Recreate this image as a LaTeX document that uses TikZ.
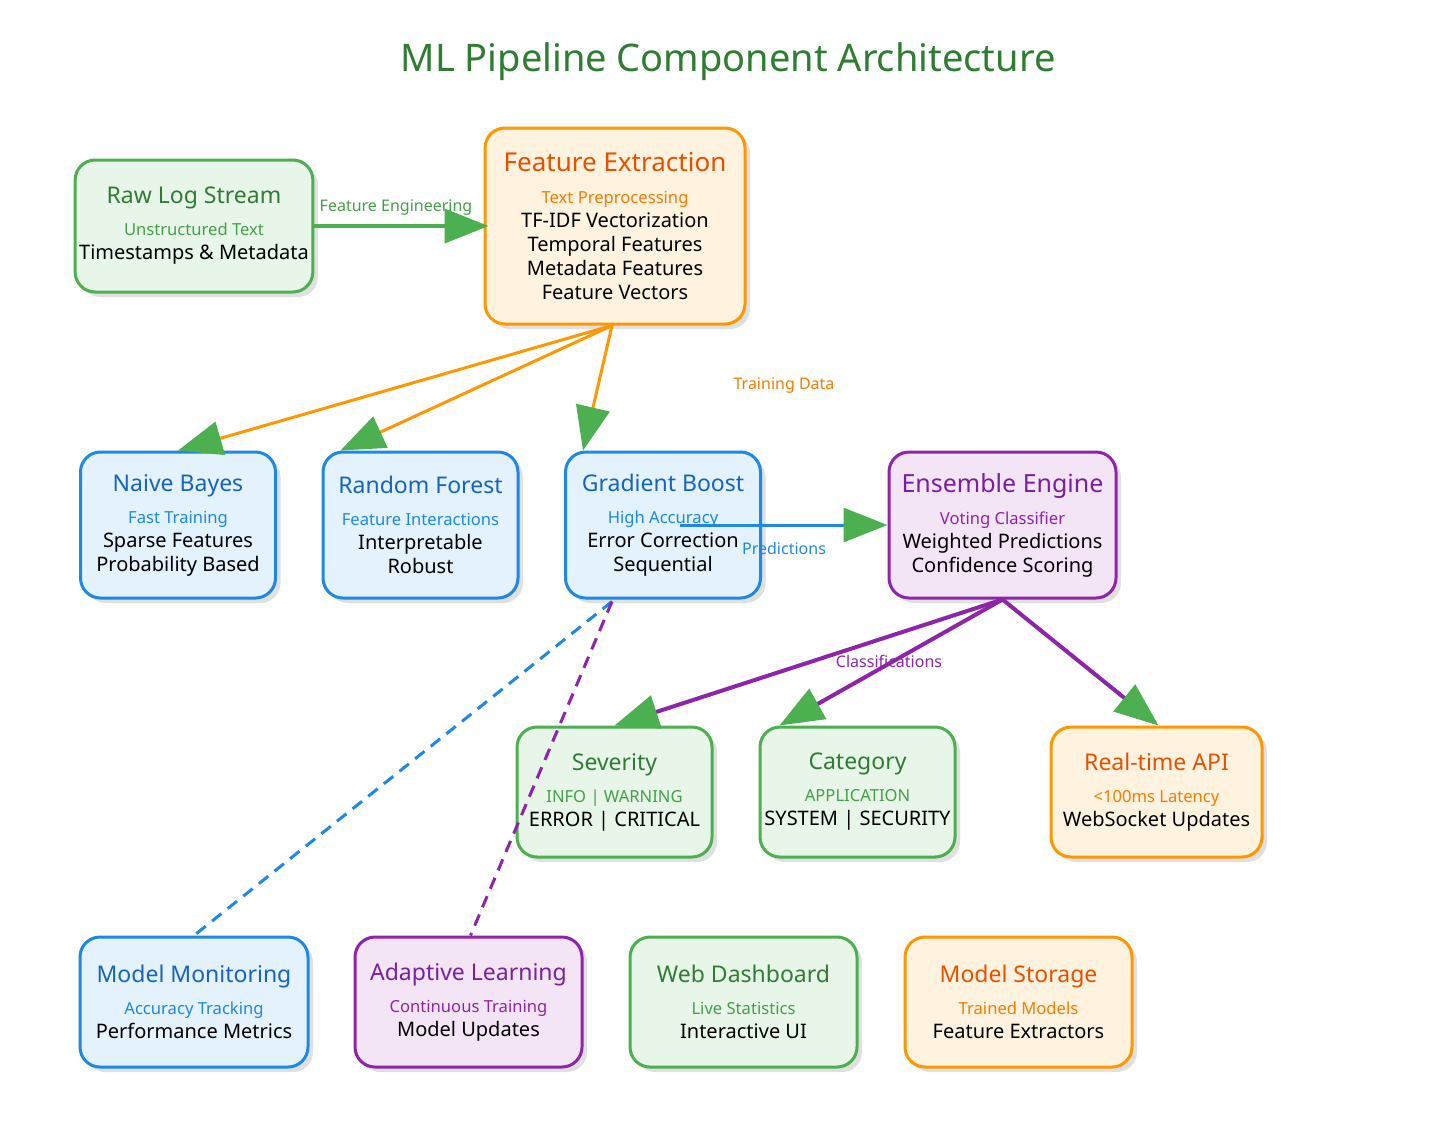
\documentclass[tikz,border=0pt]{standalone}
\usepackage{fontspec}
\setmainfont{Noto Sans}
\usetikzlibrary{arrows.meta,calc}
\definecolor{gF}{HTML}{E8F5E9}\definecolor{gD}{HTML}{4CAF50}\definecolor{gT}{HTML}{2E7D32}\definecolor{gX}{HTML}{43A047}
\definecolor{oF}{HTML}{FFF3E0}\definecolor{oD}{HTML}{FF9800}\definecolor{oT}{HTML}{E65100}\definecolor{oX}{HTML}{F57C00}
\definecolor{bF}{HTML}{E3F2FD}\definecolor{bD}{HTML}{1E88E5}\definecolor{bT}{HTML}{1565C0}\definecolor{bX}{HTML}{1E88E5}
\definecolor{pF}{HTML}{F3E5F5}\definecolor{pD}{HTML}{8E24AA}\definecolor{pT}{HTML}{7B1FA2}\definecolor{pX}{HTML}{8E24AA}
\newcommand{\mybx}[4]{\color{#1}\fontsize{11.5}{14}\selectfont\bfseries #3\\[4pt]\color{#2}\fontsize{8.3}{12}\selectfont\mdseries #4}
\tikzset{
 box/.style={rounded corners=10pt,line width=1.5pt,align=center,inner sep=2pt,preaction={fill=black,opacity=0.12,transform canvas={xshift=2.5pt,yshift=-2.5pt}}},
 G/.style={box,fill=gF,draw=gD},O/.style={box,fill=oF,draw=oD},B/.style={box,fill=bF,draw=bD},P/.style={box,fill=pF,draw=pD},
 tip/.style={-{Triangle[length=22pt,width=17pt,color=gD]}},
 lab/.style={font=\fontsize{8}{10}\selectfont\bfseries}
}
\begin{document}
\begin{tikzpicture}[x=0.5pt,y=-0.5pt]
\useasboundingbox[fill=white] (0,0) rectangle (1456,1132);
\node[text=gT,font=\fontsize{19}{22}\selectfont\bfseries] (title) at (728,62) {ML Pipeline Component Architecture};
\node[G,minimum width=114pt,minimum height=66pt] (raw) at (194,226) {\mybx{gT}{gX}{Raw Log Stream}{Unstructured Text\\Timestamps \& Metadata}};
\node[O,minimum width=130pt,minimum height=98pt] (fe) at (615,226) {\mybx{oT}{oX}{\fontsize{13}{15}\selectfont Feature Extraction}{Text Preprocessing\\TF-IDF Vectorization\\Temporal Features\\Metadata Features\\Feature Vectors}};
\node[B,minimum width=97.5pt,minimum height=73pt] (nb) at (178,525) {\mybx{bT}{bX}{Naive Bayes}{Fast Training\\Sparse Features\\Probability Based}};
\node[B,minimum width=97.5pt,minimum height=73pt] (rf) at (420.5,525) {\mybx{bT}{bX}{Random Forest}{Feature Interactions\\Interpretable\\Robust}};
\node[B,minimum width=97.5pt,minimum height=73pt] (gb) at (663,525) {\mybx{bT}{bX}{Gradient Boost}{High Accuracy\\Error Correction\\Sequential}};
\node[P,minimum width=113.5pt,minimum height=73pt] (en) at (1002.5,525) {\mybx{pT}{pX}{\fontsize{12.5}{14}\selectfont Ensemble Engine}{Voting Classifier\\Weighted Predictions\\Confidence Scoring}};
\node[G,minimum width=97.5pt,minimum height=65pt] (sev) at (614.5,792) {\mybx{gT}{gX}{Severity}{INFO | WARNING\\ERROR | CRITICAL}};
\node[G,minimum width=97.5pt,minimum height=65pt] (cat) at (857.5,792) {\mybx{gT}{gX}{Category}{APPLICATION\\SYSTEM | SECURITY}};
\node[O,minimum width=105.5pt,minimum height=65pt] (api) at (1156.5,792) {\mybx{oT}{oX}{Real-time API}{<100ms Latency\\WebSocket Updates}};
\node[B,minimum width=114pt,minimum height=65pt] (mon) at (194,1002) {\mybx{bT}{bX}{Model Monitoring}{Accuracy Tracking\\Performance Metrics}};
\node[P,minimum width=113.5pt,minimum height=65pt] (ada) at (468.5,1002) {\mybx{pT}{pX}{Adaptive Learning}{Continuous Training\\Model Updates}};
\node[G,minimum width=113.5pt,minimum height=65pt] (web) at (743.5,1002) {\mybx{gT}{gX}{Web Dashboard}{Live Statistics\\Interactive UI}};
\node[O,minimum width=113.5pt,minimum height=65pt] (sto) at (1018.5,1002) {\mybx{oT}{oX}{Model Storage}{Trained Models\\Feature Extractors}};
% edges
\draw[tip,gD,line width=2pt] (raw.east) -- ($(fe.west)+(5,0)$);
\node[lab,text=gX] (l1) at (396,208) {Feature Engineering};
\draw[tip,oD,line width=1.5pt] ($(fe.south)+(-3,0)$) -- (nb.north);
\draw[tip,oD,line width=1.5pt] ($(fe.south)+(-3,0)$) -- ($(rf.north)+(-80,0)$);
\draw[tip,oD,line width=1.5pt] ($(fe.south)+(-3,0)$) -- ($(gb.north)+(-80,0)$);
\node[lab,text=oX] (l2) at (784,386) {Training Data};
\draw[tip,bD,line width=1.5pt] ($(gb.center)+(17,0)$) -- (en.west);
\node[lab,text=bD] (l3) at (784,548) {Predictions};
\draw[tip,pD,line width=2pt] (en.south) -- (sev.north);
\draw[tip,pD,line width=2pt] (en.south) -- ($(cat.north)+(-78,0)$);
\draw[tip,pD,line width=2pt] (en.south) -- ($(api.north)+(2,0)$);
\node[lab,text=pD] (l4) at (889,661) {Classifications};
\draw[bD,line width=1.5pt,dash pattern=on 6pt off 4pt] ($(gb.south)+(-51,2)$) -- (mon.north);
\draw[pD,line width=1.5pt,dash pattern=on 6pt off 4pt] ($(gb.south)+(-51,2)$) -- ($(ada.north)+(2,0)$);
\end{tikzpicture}
\end{document}
